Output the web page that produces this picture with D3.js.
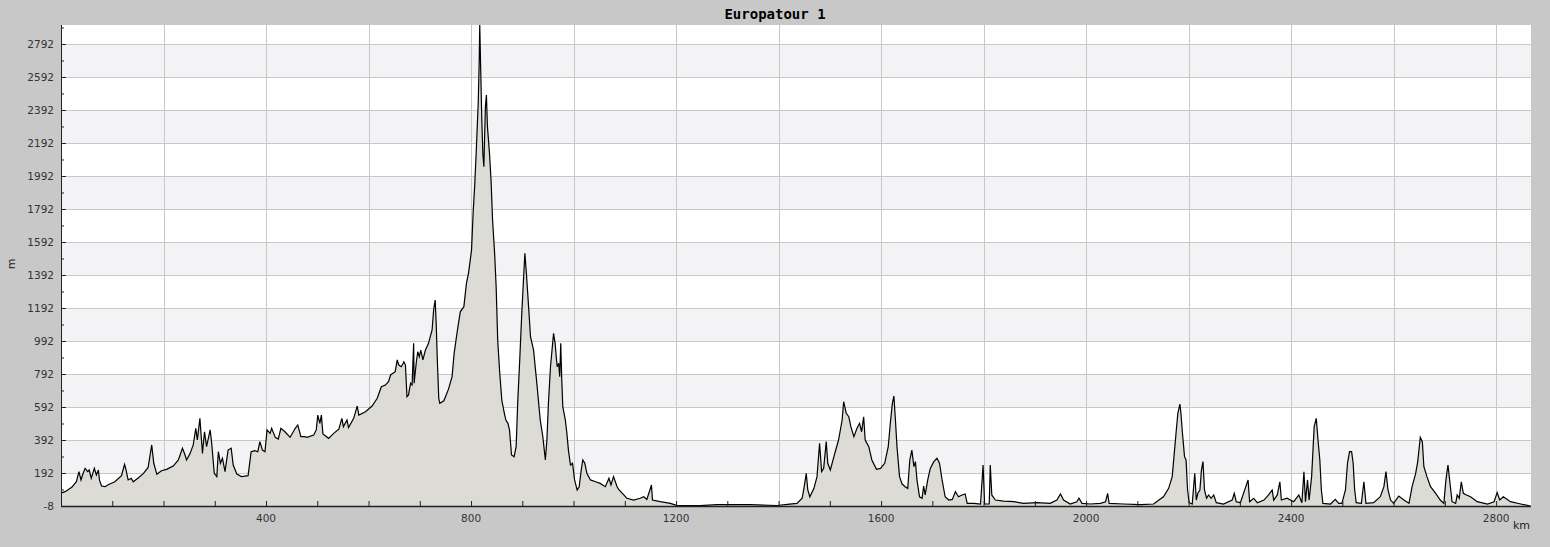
<!DOCTYPE html>
<html><head><meta charset="utf-8">
<script src="https://cdn.jsdelivr.net/npm/d3@7/dist/d3.min.js"></script>
<style>
html,body{margin:0;padding:0;background:#c8c8c8;}
svg{display:block;}
</style></head>
<body>
<script>
const titleText = "Europatour 1";
const xLabel = "km";
const yLabel = "m";
const yTickValues = [-8,192,392,592,792,992,1192,1392,1592,1792,1992,2192,2392,2592,2792];
const yMinorTicks = [92,292,492,692,892,1092,1292,1492,1692,1892,2092,2292,2492,2692,2892];
const xTickLabels = [400,800,1200,1600,2000,2400,2800];
const xGridValues = [200,400,600,800,1000,1200,1400,1600,1800,2000,2200,2400,2600,2800];
const xTickValues = d3.range(100, 2868, 100);
const xDomain = [0, 2868];
const yDomain = [-8, 2907];

const distKm = [0,8,21,30,35,39,42,47,52,55,59,62,65,69,73,75,79,86,92,105,118,124,127,131,137,141,151,161,170,177,181,187,196,206,219,229,237,242,245,252,258,263,266,271,276,280,284,291,294,299,304,307,311,315,320,326,332,336,343,352,365,371,378,384,388,393,398,402,408,411,418,424,429,437,447,457,462,468,476,480,493,498,501,505,508,511,522,532,542,548,551,558,561,571,578,581,594,607,617,625,633,639,643,652,656,659,664,669,672,675,678,682,685,688,689,693,696,699,702,706,711,717,724,727,730,732,734,737,739,747,756,763,767,773,779,786,791,795,801,804,807,810,814,816,817,819,821,823,825,828,830,832,836,839,842,846,849,852,856,860,865,868,872,875,879,884,888,891,895,899,903,905,908,911,916,922,929,935,940,945,948,951,955,958,961,964,968,971,973,975,977,979,984,987,990,994,998,1002,1007,1011,1015,1018,1022,1026,1033,1043,1052,1062,1069,1073,1078,1085,1088,1098,1104,1117,1130,1137,1143,1152,1154,1169,1189,1202,1247,1280,1345,1397,1417,1436,1446,1450,1454,1457,1461,1469,1475,1480,1484,1488,1493,1496,1501,1508,1517,1524,1527,1532,1537,1541,1547,1553,1558,1562,1566,1569,1576,1582,1591,1599,1607,1614,1618,1622,1625,1628,1631,1636,1641,1647,1652,1656,1660,1664,1667,1670,1675,1680,1683,1686,1691,1696,1703,1709,1714,1719,1725,1732,1739,1745,1751,1758,1764,1768,1781,1794,1799,1802,1811,1813,1816,1823,1839,1859,1878,1904,1930,1943,1950,1956,1969,1982,1986,1992,2008,2028,2038,2042,2045,2073,2106,2132,2142,2151,2161,2168,2172,2176,2179,2183,2185,2188,2192,2195,2198,2201,2207,2212,2215,2218,2222,2225,2228,2231,2235,2239,2244,2249,2254,2268,2285,2289,2293,2301,2316,2319,2327,2334,2347,2356,2363,2366,2373,2378,2381,2392,2405,2415,2421,2425,2428,2432,2435,2440,2443,2445,2449,2453,2456,2459,2462,2477,2486,2493,2499,2506,2510,2514,2518,2521,2524,2527,2537,2542,2546,2561,2574,2581,2585,2589,2594,2600,2610,2620,2630,2636,2643,2647,2652,2656,2659,2665,2672,2682,2691,2698,2702,2706,2710,2714,2721,2724,2728,2732,2736,2742,2750,2763,2783,2796,2802,2807,2814,2828,2848,2867];
const elevM = [70,79,105,139,200,150,180,220,200,210,160,190,220,180,210,150,113,109,121,139,176,245,210,150,160,139,163,190,226,362,251,184,206,214,234,271,342,301,271,311,362,463,392,523,311,442,352,453,372,190,170,321,251,281,200,331,342,240,186,170,176,321,327,321,382,331,321,453,432,463,408,398,463,442,408,463,483,412,412,408,422,453,543,493,543,428,402,432,457,523,473,513,467,523,598,543,563,598,645,715,725,745,786,806,877,846,836,866,846,654,665,736,725,978,736,857,927,897,937,877,937,978,1059,1180,1240,1099,897,645,614,630,700,776,917,1048,1169,1200,1341,1402,1543,1765,1927,2129,2432,2695,2907,2614,2331,2129,2048,2412,2483,2291,2129,1968,1725,1523,1321,998,796,634,554,513,493,453,301,291,352,614,877,1160,1402,1523,1402,1261,1018,937,715,513,412,271,392,614,836,937,1038,978,836,857,776,978,756,594,513,432,331,240,251,150,89,109,210,271,251,190,150,139,129,109,160,119,170,109,93,59,39,28,39,48,32,119,28,18,8,-6,-6,0,0,-5,2,8,39,109,190,89,48,99,170,372,200,220,382,251,210,291,392,513,624,554,533,473,412,463,493,442,533,392,352,271,214,220,251,352,493,614,659,513,352,170,125,109,99,271,331,231,261,150,48,39,113,59,150,220,261,281,251,150,48,28,32,79,48,59,65,8,8,4,240,4,4,240,59,28,22,18,8,12,8,28,65,28,4,18,39,8,4,8,18,69,8,4,0,4,28,48,99,170,311,453,554,610,554,432,291,271,89,12,4,190,28,69,89,210,261,89,39,59,39,59,12,4,28,69,18,12,150,18,39,12,28,59,89,28,59,139,28,39,18,59,12,200,18,150,28,170,352,473,523,372,271,89,8,4,32,8,8,89,251,321,321,251,89,12,8,139,8,12,48,109,200,89,28,8,52,28,8,109,190,261,408,382,230,170,109,69,28,8,150,240,130,18,8,59,39,139,69,59,48,18,4,18,73,28,48,18,4,-8];

const W = 1550, H = 547;
const L = 61, R = 1531, T = 25, B = 506;

const svg = d3.select("body").append("svg").attr("width", W).attr("height", H);
svg.append("rect").attr("width", W).attr("height", H).attr("fill", "#c8c8c8");

const x = d3.scaleLinear().domain(xDomain).range([L, R]);
const y = d3.scaleLinear().domain(yDomain).range([B, T]);

// plot background
svg.append("rect").attr("x", L).attr("y", T).attr("width", R - L).attr("height", B - T).attr("fill", "#ffffff");
// alternating bands
const bands = yTickValues.filter((t, i) => i % 2 === 1);
svg.append("g").selectAll("rect").data(bands).join("rect")
  .attr("x", L).attr("width", R - L)
  .attr("y", d => y(d + 200)).attr("height", d => y(d) - y(d + 200))
  .attr("fill", "#f3f2f5");

// grid lines
const grid = svg.append("g").attr("stroke", "#c8c8c8").attr("stroke-width", 1).attr("shape-rendering", "crispEdges");
grid.selectAll("line.h").data(yTickValues.slice(1)).join("line").attr("class", "h")
  .attr("x1", L).attr("x2", R).attr("y1", d => Math.round(y(d)) + 0.5).attr("y2", d => Math.round(y(d)) + 0.5);
grid.selectAll("line.v").data(xGridValues).join("line").attr("class", "v")
  .attr("y1", T).attr("y2", B).attr("x1", d => Math.round(x(d)) + 0.5).attr("x2", d => Math.round(x(d)) + 0.5);

const pts = distKm.map((d, i) => [d, elevM[i]]);
const area = d3.area().x(d => x(d[0])).y0(y(yDomain[0])).y1(d => y(d[1]));
const line = d3.line().x(d => x(d[0])).y(d => y(d[1]));
svg.append("path").datum(pts).attr("d", area).attr("fill", "#dcdbd6");
svg.append("path").datum(pts).attr("d", line).attr("fill", "none").attr("stroke", "#000").attr("stroke-width", 1.2).attr("stroke-linejoin", "miter");

// axes
const axY = svg.append("g").attr("transform", `translate(${L},0)`);
axY.call(d3.axisRight(y).tickValues(yTickValues).tickSize(5).tickFormat(""));
axY.append("g").call(d3.axisRight(y).tickValues(yMinorTicks).tickSize(3).tickFormat(""));
axY.selectAll("path.domain").remove();
axY.selectAll("line").attr("stroke", "#222");
svg.append("line").attr("x1", L + 0.5).attr("x2", L + 0.5).attr("y1", T).attr("y2", B + 1).attr("stroke", "#222");

svg.append("g").selectAll("text").data(yTickValues).join("text")
  .attr("x", L - 7).attr("y", d => y(d)).attr("dy", "0.35em")
  .attr("text-anchor", "end").attr("font-family", "DejaVu Sans").attr("font-size", 10.5)
  .attr("fill", "#333").text(d => d);

const axX = svg.append("g").attr("transform", `translate(0,${B})`);
axX.call(d3.axisTop(x).tickValues(xTickValues).tickSize(5).tickFormat(""));
axX.selectAll("path.domain").remove();
axX.selectAll("line").attr("stroke", "#222");
svg.append("line").attr("x1", L).attr("x2", R).attr("y1", B + 0.5).attr("y2", B + 0.5).attr("stroke", "#222").attr("stroke-width", 1.5);

svg.append("g").selectAll("text").data(xTickLabels).join("text")
  .attr("x", d => x(d)).attr("y", B + 12).attr("dy", "0.35em")
  .attr("text-anchor", "middle").attr("font-family", "DejaVu Sans").attr("font-size", 10.5)
  .attr("fill", "#333").text(d => d);

svg.append("text").attr("x", R - 1).attr("y", 529).attr("text-anchor", "end")
  .attr("font-family", "DejaVu Sans").attr("font-size", 11).attr("fill", "#222").text(xLabel);
svg.append("text").attr("transform", "translate(15,264) rotate(-90)").attr("text-anchor", "middle")
  .attr("font-family", "DejaVu Sans").attr("font-size", 11).attr("fill", "#222").text(yLabel);

svg.append("text").attr("x", 775).attr("y", 19).attr("text-anchor", "middle")
  .attr("font-family", "DejaVu Sans Mono").attr("font-weight", "bold").attr("font-size", 14)
  .attr("fill", "#000").text(titleText);
</script>
</body></html>
